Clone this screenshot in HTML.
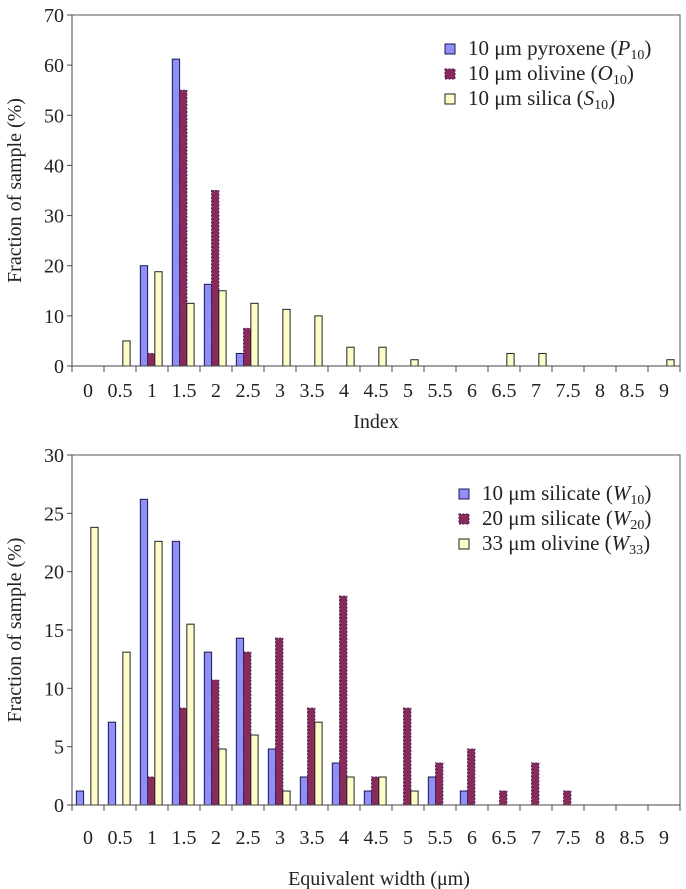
<!DOCTYPE html>
<html><head><meta charset="utf-8"><style>
body{margin:0;background:#fff}
svg{display:block;font-family:"Liberation Serif",serif}
</style></head><body>
<svg id="c" width="686" height="889"></svg>
<script>
const categories=["0","0.5","1","1.5","2","2.5","3","3.5","4","4.5","5","5.5","6","6.5","7","7.5","8","8.5","9"];
const p10=[0,0,20,61.2,16.3,2.5,0,0,0,0,0,0,0,0,0,0,0,0,0];
const o10=[0,0,2.5,55,35,7.5,0,0,0,0,0,0,0,0,0,0,0,0,0];
const s10=[0,5,18.8,12.5,15,12.5,11.3,10,3.75,3.75,1.25,0,0,2.5,2.5,0,0,0,1.25];
const w10=[1.2,7.1,26.2,22.6,13.1,14.3,4.8,2.4,3.6,1.2,0,2.4,1.2,0,0,0,0,0,0];
const w20=[0,0,2.4,8.3,10.7,13.1,14.3,8.3,17.9,2.4,8.3,3.6,4.8,1.2,3.6,1.2,0,0,0];
const w33=[23.8,13.1,22.6,15.5,4.8,6.0,1.2,7.1,2.4,2.4,1.2,0,0,0,0,0,0,0,0];
const topTicks=[0,10,20,30,40,50,60,70];
const botTicks=[0,5,10,15,20,25,30];
const NS="http://www.w3.org/2000/svg";
const svg=document.getElementById('c');
function mk(t,a,parent){const e=document.createElementNS(NS,t);for(const k in a)e.setAttribute(k,a[k]);(parent||svg).appendChild(e);return e;}
const colors=[{f:"#8f8ff5",s:"#1a1a50",d:""},{f:"#8a2a58",s:"#3a1a60",d:"2,1.5"},{f:"#fdfdc8",s:"#222",d:""}];
function chart(o){
  const g=mk('g',{});
  
  
  const L=72,R=680,T=o.top,B=o.bottom,n=categories.length,cw=(R-L)/n;
  const y=v=>B-(v/o.max)*(B-T);
  const x=i=>L+i*cw;
  const frame=mk('polyline',{points:`${L},${T} ${R},${T} ${R},${B}`,fill:'none',stroke:'#555','stroke-width':1},g);
  
  const bw=cw*0.227,off=cw*0.135;
  o.series.forEach((s,si)=>{
    s.forEach((v,i)=>{
      if(v<=0)return;
      const r=mk('rect',{x:x(i)+off+si*bw,y:y(v),width:bw,height:B-y(v),fill:colors[si].f,stroke:colors[si].s,'stroke-width':1,'stroke-dasharray':colors[si].d},g);
      
      
    });
  });
  mk('line',{x1:L,y1:T,x2:L,y2:B,stroke:'#444'},g);
  mk('line',{x1:L,y1:B,x2:R,y2:B,stroke:'#444'},g);
  o.ticks.forEach(t=>{
    mk('line',{x1:L-5,y1:y(t),x2:L,y2:y(t),stroke:'#444'},g);
    const tx=mk('text',{x:L-8,y:y(t)+7,'text-anchor':'end','font-size':20,fill:'#222'},g);
    tx.textContent=t;
    
  });
  for(let i=0;i<=n;i++){mk('line',{x1:x(i),y1:B,x2:x(i),y2:B+6,stroke:'#444'},g);}
  categories.forEach((c,i)=>{
    const tx=mk('text',{x:x(i)+cw/2,y:B+o.lab,'text-anchor':'middle','font-size':20,fill:'#222'},g);
    tx.textContent=c;
    
  });
  const xt=mk('text',{x:o.xtx,y:o.xty,'text-anchor':'middle','font-size':20,fill:'#222'},g);
  xt.textContent=o.xtitle;
  
  const cy=(T+B)/2;
  const yt=mk('text',{x:0,y:0,transform:`translate(21,${cy}) rotate(-90)`,'text-anchor':'middle','font-size':20,fill:'#222'},g);
  yt.textContent='Fraction of sample (%)';
  
  o.legend.forEach((lg,i)=>{
    const ly=o.ly+i*25;
    const e=mk('g',{},g);
    
    mk('rect',{x:o.lx,y:ly-4,width:10,height:10,fill:colors[i].f,stroke:colors[i].s,'stroke-dasharray':colors[i].d},e);
    const t=mk('text',{x:o.lx+23,y:ly+7,'font-size':21,fill:'#222'},e);
    t.innerHTML=`${lg[0]} (<tspan font-style="italic">${lg[1]}</tspan><tspan font-size="14" dy="4">${lg[2]}</tspan><tspan dy="-4">)</tspan>`;
  });
}
chart({name:'index-chart',top:15,bottom:366,max:70,ticks:topTicks,series:[p10,o10,s10],names:['p10','o10','s10'],lab:31,xtitle:'Index',xtx:376,xty:428,lx:445,ly:48,
  legend:[['10 μm pyroxene','P','10'],['10 μm olivine','O','10'],['10 μm silica','S','10']]});
chart({name:'width-chart',top:455,bottom:805,max:30,ticks:botTicks,series:[w10,w20,w33],names:['w10','w20','w33'],lab:39,xtitle:'Equivalent width (μm)',xtx:379,xty:885,lx:459,ly:493,
  legend:[['10 μm silicate','W','10'],['20 μm silicate','W','20'],['33 μm olivine','W','33']]});
</script>
</body></html>
